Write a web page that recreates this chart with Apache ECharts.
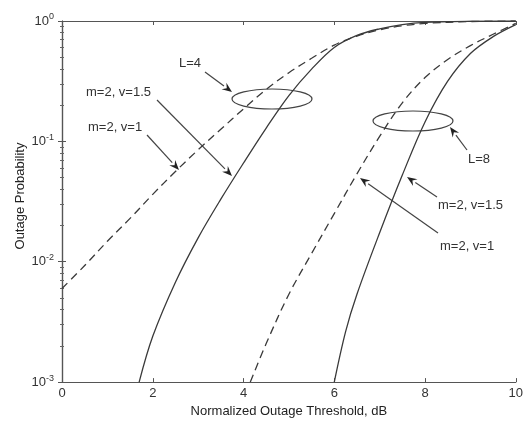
<!DOCTYPE html>
<html>
<head>
<meta charset="utf-8">
<script src="https://cdn.jsdelivr.net/npm/echarts@6/dist/echarts.min.js"></script>
<style>html,body{margin:0;padding:0;background:#fff}#c{width:526px;height:423px}</style>
</head>
<body>
<div id="c"></div>
<script>
// Data
var xL4v1 = [0, 0.5, 1, 1.5, 2, 2.5, 3, 3.5, 4, 4.5, 5, 5.5, 6, 6.5, 7, 7.5, 8, 9, 10];
var yL4v1 = [0.0060, 0.0093, 0.0148, 0.0229, 0.0363, 0.0562, 0.0851, 0.126, 0.186, 0.270, 0.372, 0.490, 0.631, 0.750, 0.845, 0.912, 0.955, 0.990, 1.0];

var xL4v15 = [1.7, 2, 2.5, 3, 3.5, 4, 4.5, 5, 5.5, 6, 6.5, 7, 7.5, 8, 9, 10];
var yL4v15 = [0.001, 0.0024, 0.00676, 0.0158, 0.0331, 0.0661, 0.129, 0.240, 0.398, 0.603, 0.759, 0.861, 0.933, 0.973, 0.995, 1.0];

var xL8v1 = [4.15, 4.5, 5, 5.5, 6, 6.5, 7, 7.5, 8, 8.5, 9, 9.5, 10];
var yL8v1 = [0.001, 0.00209, 0.00537, 0.0117, 0.0251, 0.0537, 0.110, 0.209, 0.339, 0.479, 0.624, 0.776, 0.955];

var xL8v15 = [6, 6.25, 6.5, 7, 7.5, 8, 8.5, 9, 9.5, 10];
var yL8v15 = [0.001, 0.00263, 0.00537, 0.0174, 0.0525, 0.145, 0.316, 0.537, 0.741, 0.933];

var xTicks = [0, 2, 4, 6, 8, 10];
var yTickExps = [-3, -2, -1, 0];

function pairs(xs, ys) { return xs.map(function (x, i) { return [x, ys[i]]; }); }

var FONT = 'Liberation Sans';
var INK = '#3a3a3a';

var chart = echarts.init(document.getElementById('c'), null, {renderer: 'canvas'});

function lineSeries(name, xs, ys, dashed) {
  return {
    name: name, type: 'line', data: pairs(xs, ys), smooth: 0.35, showSymbol: false,
    symbol: 'none', clip: true,
    lineStyle: {color: INK, width: 1.3, type: dashed ? [8, 5] : 'solid'}
  };
}

var option = {
  animation: false,
  backgroundColor: '#fff',
  textStyle: {fontFamily: FONT},
  grid: {left: 62, right: 3, top: 21, bottom: 39, show: false},
  xAxis: [{
    type: 'value', min: 0, max: 10, interval: 2, position: 'bottom',
    name: 'Normalized Outage Threshold, dB', nameLocation: 'middle', nameGap: 21,
    nameTextStyle: {fontFamily: FONT, fontSize: 13, color: '#222'},
    axisLine: {lineStyle: {color: '#555', width: 1.2}},
    axisTick: {inside: true, length: 4, lineStyle: {color: '#555'}},
    axisLabel: {fontFamily: FONT, fontSize: 13, color: '#333', margin: 5,
      formatter: function (v) { return xTicks.indexOf(v) >= 0 ? String(v) : ''; }},
    splitLine: {show: false}
  }, {
    type: 'value', min: 0, max: 10, interval: 2, position: 'top',
    axisLine: {lineStyle: {color: '#555', width: 1.2}},
    axisTick: {inside: true, length: 4, lineStyle: {color: '#555'}},
    axisLabel: {show: false}, splitLine: {show: false}
  }],
  yAxis: [{
    type: 'log', logBase: 10, min: 0.001, max: 1, position: 'left',
    axisLine: {show: true, lineStyle: {color: '#555', width: 1.2}},
    axisTick: {inside: true, length: 4, lineStyle: {color: '#555'}},
    minorTick: {show: true, splitNumber: 9, length: 2, lineStyle: {color: '#666'}},
    axisLabel: {
      fontFamily: FONT, fontSize: 13, color: '#333', margin: 8,
      formatter: function (v) {
        var e = Math.round(Math.log10(v));
        return yTickExps.indexOf(e) >= 0 ? '{b|10}{s|' + e + '}' : '';
      },
      rich: {
        b: {fontFamily: FONT, fontSize: 13, color: '#333'},
        s: {fontFamily: FONT, fontSize: 9, color: '#333', verticalAlign: 'top', padding: [0, 0, 8, 0]}
      }
    },
    splitLine: {show: false}
  }, {
    type: 'log', logBase: 10, min: 0.001, max: 1, position: 'right',
    axisLine: {show: true, lineStyle: {color: '#555', width: 1.2}},
    axisTick: {inside: true, length: 4, lineStyle: {color: '#555'}},
    minorTick: {show: true, splitNumber: 9, length: 2, lineStyle: {color: '#666'}},
    axisLabel: {show: false}, splitLine: {show: false}
  }],
  series: [
    lineSeries('L=4, m=2, v=1', xL4v1, yL4v1, true),
    lineSeries('L=4, m=2, v=1.5', xL4v15, yL4v15, false),
    lineSeries('L=8, m=2, v=1', xL8v1, yL8v1, true),
    lineSeries('L=8, m=2, v=1.5', xL8v15, yL8v15, false)
  ]
};
chart.setOption(option);

// Annotations (pixel-space callouts, as in the original figure)
function arrow(x1, y1, x2, y2) {
  var ang = Math.atan2(y2 - y1, x2 - x1);
  var L = 10, W = 4;
  var bx = x2 - L * Math.cos(ang), by = y2 - L * Math.sin(ang);
  var px = -Math.sin(ang), py = Math.cos(ang);
  return [
    {type: 'line', shape: {x1: x1, y1: y1, x2: bx, y2: by}, style: {stroke: '#444', lineWidth: 1.2}, silent: true},
    {type: 'polygon', shape: {points: [[x2, y2], [bx + px * W, by + py * W], [bx + 0.35 * L * Math.cos(ang), by + 0.35 * L * Math.sin(ang)], [bx - px * W, by - py * W]]},
      style: {fill: '#222'}, silent: true}
  ];
}
function label(x, y, t) {
  return {type: 'text', x: x, y: y, style: {text: t, fontFamily: FONT, fontSize: 13, fill: '#333', verticalAlign: 'middle'}, silent: true};
}
var g = [];
g.push({type: 'text', x: 20, y: 196, rotation: Math.PI / 2,
  style: {text: 'Outage Probability', fontFamily: FONT, fontSize: 13, fill: '#222', align: 'center', verticalAlign: 'middle'}, silent: true});
g.push({type: 'ellipse', shape: {cx: 272, cy: 99, rx: 40, ry: 10}, style: {fill: 'none', stroke: '#444', lineWidth: 1.2}, silent: true});
g.push({type: 'ellipse', shape: {cx: 413, cy: 121, rx: 40, ry: 10}, style: {fill: 'none', stroke: '#444', lineWidth: 1.2}, silent: true});
g = g.concat(arrow(205, 72, 232, 92));
g.push(label(179, 63, 'L=4'));
g = g.concat(arrow(157, 100, 232, 176));
g.push(label(86, 92, 'm=2, v=1.5'));
g = g.concat(arrow(147, 135, 179, 170));
g.push(label(88, 127, 'm=2, v=1'));
g = g.concat(arrow(467, 150, 450, 127));
g.push(label(468, 159, 'L=8'));
g = g.concat(arrow(437, 197, 407, 177));
g.push(label(438, 205, 'm=2, v=1.5'));
g = g.concat(arrow(438, 233, 360, 178));
g.push(label(440, 246, 'm=2, v=1'));
chart.setOption({graphic: {elements: g}});
</script>
</body>
</html>
